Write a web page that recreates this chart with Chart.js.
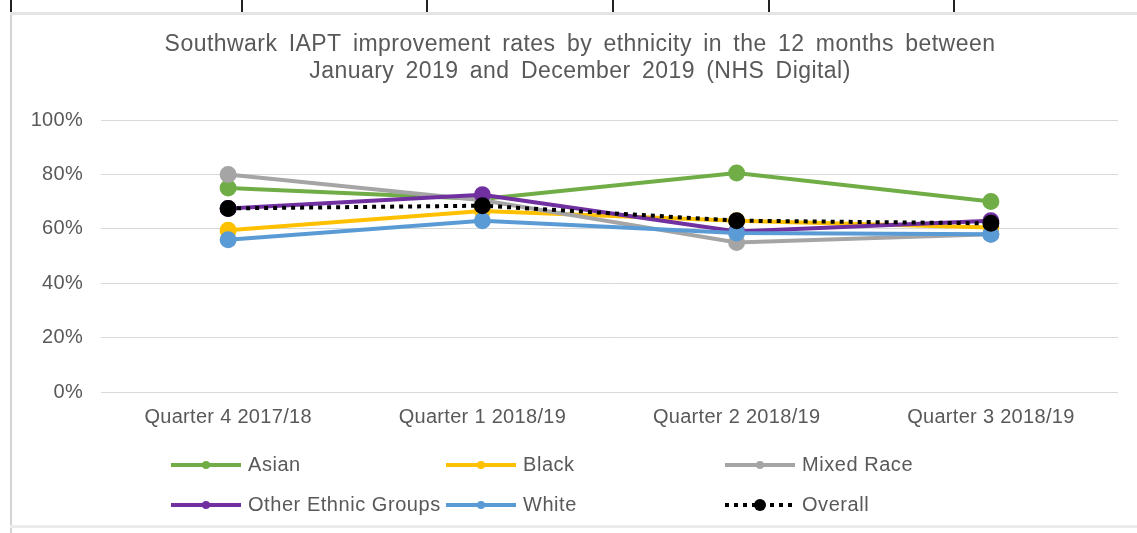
<!DOCTYPE html>
<html>
<head>
<meta charset="utf-8">
<script src="https://cdn.jsdelivr.net/npm/chart.js@4.4.1/dist/chart.umd.min.js"></script>
<style>
  html, body { margin: 0; padding: 0; background: #fff; }
  #wrap { position: relative; width: 1137px; height: 533px; overflow: hidden; }
  canvas { position: absolute; left: 0; top: 0; }
  .vl { position: absolute; top: 0; width: 2px; height: 12px; background: #222; }
  #leftb { position: absolute; left: 10px; top: 12px; width: 2px; height: 521px; background: #d4d4d4; }
  #topb { position: absolute; left: 10px; top: 12px; width: 1127px; height: 3px; background: #e4e4e4; }
  #botb { position: absolute; left: 10px; top: 525px; width: 1127px; height: 3px; background: #ececec; }
</style>
</head>
<body>
<div id="wrap">
  <canvas id="c" width="1137" height="533"></canvas>
  <div class="vl" style="left:10px"></div>
  <div class="vl" style="left:241px"></div>
  <div class="vl" style="left:426px"></div>
  <div class="vl" style="left:612px"></div>
  <div class="vl" style="left:768px"></div>
  <div class="vl" style="left:953px"></div>
  <div id="leftb"></div>
  <div id="topb"></div>
  <div id="botb"></div>
</div>
<script>
const titleLines = ["Southwark IAPT improvement rates by ethnicity in the 12 months between",
                    "January 2019 and December 2019 (NHS Digital)"];
const categories = ["Quarter 4 2017/18", "Quarter 1 2018/19", "Quarter 2 2018/19", "Quarter 3 2018/19"];
const yTicks = [0, 20, 40, 60, 80, 100];
const seriesNames = ["Asian", "Black", "Mixed Race", "Other Ethnic Groups", "White", "Overall"];
const asian = [75, 71, 80.5, 70];
const black = [59.5, 66.5, 63, 60.5];
const mixedRace = [80, 70.5, 55, 58];
const otherEthnic = [67.5, 72.5, 59, 63];
const white = [56, 63, 58.5, 58];
const overall = [67.5, 68.5, 63, 62];

const colors = ["#70AD47", "#FFC000", "#A5A5A5", "#7030A0", "#5B9BD5", "#000000"];
const seriesData = [asian, black, mixedRace, otherEthnic, white, overall];
const TXT = "#595959";
const FONT = "'Liberation Sans', Arial, sans-serif";

const datasets = seriesNames.map((name, i) => ({
  label: name,
  data: seriesData[i],
  borderColor: colors[i],
  backgroundColor: colors[i],
  pointBackgroundColor: colors[i],
  pointBorderColor: colors[i],
  borderWidth: 4,
  pointRadius: 6.5,
  pointHoverRadius: 6.5,
  borderDash: name === "Overall" ? [4, 5] : [],
  tension: 0,
  order: seriesNames.length - 1 - i
}));

const spacingPlugin = {
  id: 'spacing',
  beforeDraw(chart) { chart.ctx.letterSpacing = "0.3px"; },
  afterDraw(chart) { chart.ctx.letterSpacing = "0px"; }
};

const titlePlugin = {
  id: 'customTitle',
  afterDraw(chart) {
    const ctx = chart.ctx;
    ctx.save();
    ctx.fillStyle = TXT;
    ctx.font = "23px " + FONT;
    ctx.letterSpacing = "0.45px";
    ctx.wordSpacing = "4.5px";
    ctx.textAlign = "center";
    ctx.textBaseline = "middle";
    ctx.fillText(titleLines[0], 580, 45);
    ctx.fillText(titleLines[1], 580, 72);
    ctx.restore();
  }
};

const legendPlugin = {
  id: 'gridLegend',
  afterDraw(chart) {
    const ctx = chart.ctx;
    const cols = [171, 446, 725];
    const rows = [465, 505];
    ctx.save();
    ctx.font = "20px " + FONT;
    ctx.letterSpacing = "0.55px";
    ctx.textBaseline = "middle";
    ctx.textAlign = "left";
    chart.data.datasets.forEach((ds, i) => {
      const x = cols[i % 3];
      const y = rows[Math.floor(i / 3)];
      ctx.strokeStyle = ds.borderColor;
      ctx.lineWidth = 4;
      ctx.setLineDash(ds.borderDash || []);
      ctx.beginPath();
      ctx.moveTo(x, y);
      ctx.lineTo(x + 70, y);
      ctx.stroke();
      ctx.setLineDash([]);
      ctx.fillStyle = ds.borderColor;
      ctx.beginPath();
      ctx.arc(x + 35, y, ds.label === "Overall" ? 6 : 4, 0, Math.PI * 2);
      ctx.fill();
      ctx.fillStyle = TXT;
      ctx.fillText(ds.label, x + 77, y);
    });
    ctx.restore();
  }
};

new Chart(document.getElementById('c'), {
  type: 'line',
  data: { labels: categories, datasets },
  options: {
    responsive: false,
    animation: false,
    events: [],
    layout: { padding: { left: 0, right: 19, top: 120, bottom: 101 } },
    plugins: { legend: { display: false }, title: { display: false }, tooltip: { enabled: false } },
    scales: {
      x: {
        offset: true,
        grid: { display: false, drawTicks: false, offset: true },
        border: { display: false },
        ticks: { color: TXT, font: { family: FONT, size: 20 }, padding: 13, maxRotation: 0, autoSkip: false },
        afterFit(s) { s.height = 40; }
      },
      y: {
        min: 0, max: 100,
        afterBuildTicks(s) { s.ticks = yTicks.map(v => ({ value: v })); },
        grid: { color: "#d9d9d9", lineWidth: 1, drawTicks: false },
        border: { display: false },
        ticks: { color: TXT, font: { family: FONT, size: 20 }, padding: 18, callback: v => v + "%" },
        afterFit(s) { s.width = 101; }
      }
    }
  },
  plugins: [spacingPlugin, titlePlugin, legendPlugin]
});
</script>
</body>
</html>
